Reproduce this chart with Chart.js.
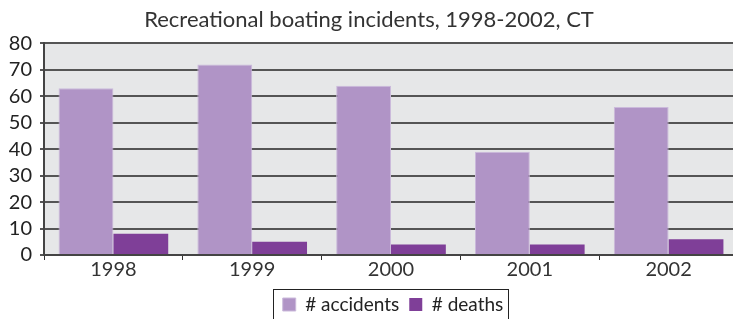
<!DOCTYPE html>
<html><head><meta charset="utf-8">
<script src="https://cdn.jsdelivr.net/npm/chart.js@4"></script>
<style>
html,body{margin:0;padding:0;background:#fff;overflow:hidden;}
#wrap{width:740px;height:319px;position:relative;}
</style></head>
<body><div id="wrap"><canvas id="c"></canvas></div>
<script>
const years = ['1998','1999','2000','2001','2002'];
const accidents = [63, 72, 64, 39, 56];
const deaths = [8, 5, 4, 4, 6];
const yTicks = [0,10,20,30,40,50,60,70,80];
const titleText = 'Recreational boating incidents, 1998-2002, CT';
const FONT = 'Lato, "Open Sans", sans-serif';
const LEGEND_SHIFT_X = 24;
const LEGEND_SHIFT_Y = 5;

const bgPlugin = {
  id: 'bg',
  beforeDraw(chart) {
    const a = chart.chartArea, ctx = chart.ctx;
    ctx.save(); ctx.fillStyle = '#e6e7e8';
    ctx.fillRect(a.left, a.top, a.right - a.left, a.bottom - a.top);
    ctx.restore();
    const lg = chart.legend;
    if (lg) {
      lg.left += LEGEND_SHIFT_X; lg.right += LEGEND_SHIFT_X;
      lg.top += LEGEND_SHIFT_Y; lg.bottom += LEGEND_SHIFT_Y;
    }
  },
  afterDraw(chart) {
    const lg = chart.legend, ctx = chart.ctx;
    if (!lg || !lg.legendHitBoxes.length) return;
    lg.left -= LEGEND_SHIFT_X; lg.right -= LEGEND_SHIFT_X;
    lg.top -= LEGEND_SHIFT_Y; lg.bottom -= LEGEND_SHIFT_Y;
    const hb = lg.legendHitBoxes;
    const l = Math.min(...hb.map(h => h.left)) + LEGEND_SHIFT_X - 10;
    const r = Math.max(...hb.map(h => h.left + h.width)) + LEGEND_SHIFT_X + 4;
    const t = Math.min(...hb.map(h => h.top)) + LEGEND_SHIFT_Y - 6;
    ctx.save(); ctx.strokeStyle = '#222'; ctx.lineWidth = 1;
    ctx.strokeRect(Math.round(l) + 0.5, Math.round(t) + 0.5, Math.round(r - l), 40);
    ctx.restore();
  }
};

new Chart(document.getElementById('c'), {
  type: 'bar',
  data: {
    labels: years,
    datasets: [
      { label: '# accidents', data: accidents, backgroundColor: '#b094c6', borderColor: '#cbbadb', borderWidth: 1, borderSkipped: 'bottom' },
      { label: '# deaths', data: deaths, backgroundColor: '#7f3f98', borderWidth: 0 }
    ]
  },
  options: {
    responsive: true, maintainAspectRatio: false, animation: false,
    layout: { padding: { left: 0, right: 2, top: 0, bottom: 0 } },
    categoryPercentage: 0.79, barPercentage: 1.0,
    plugins: {
      title: { display: true, text: titleText, color: '#333', font: { family: FONT, size: 22, weight: 'normal' }, padding: { top: 7, bottom: 10 } },
      legend: {
        position: 'bottom',
        labels: { color: '#222', font: { family: FONT, size: 19, lineHeight: 1.0 }, boxWidth: 13, boxHeight: 13, padding: 10 }
      },
      tooltip: { enabled: false }
    },
    scales: {
      x: {
        grid: { offset: true, drawOnChartArea: false, color: '#333', tickLength: 5, lineWidth: 1 },
        border: { color: '#444', width: 2 },
        ticks: { color: '#333', font: { family: FONT, size: 20, lineHeight: 1.0 }, padding: 0 }
      },
      y: {
        min: 0, max: 80,
        afterBuildTicks(s) { s.ticks = yTicks.map(v => ({ value: v })); },
        afterFit(s) { s.width = 44; },
        grid: { color: '#555', lineWidth: 2, tickLength: 4 },
        border: { color: '#444', width: 2 },
        ticks: { color: '#222', font: { family: FONT, size: 20 }, padding: 8, autoSkip: false }
      }
    }
  },
  plugins: [bgPlugin]
});
</script></body></html>
